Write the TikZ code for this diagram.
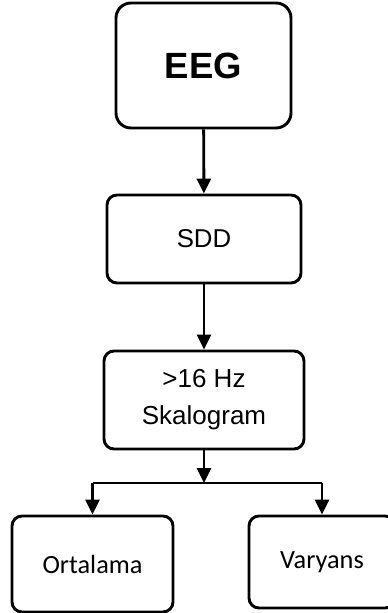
\documentclass[tikz,border=0pt]{standalone}
\usepackage{fontspec}
\setmainfont{Liberation Sans}
\newfontfamily\calfont{Carlito}
\usetikzlibrary{arrows.meta}
\begin{document}
\begin{tikzpicture}[x=1pt,y=-1pt,
  box/.style={draw, line width=2.9pt, rounded corners=10pt, inner sep=0pt, align=center},
  flow/.style={line width=2.9pt, -{Triangle[length=15pt,width=14pt]}},
  link/.style={line width=2.9pt}]
\useasboundingbox (0,0) rectangle (388,613);

\node[box, rounded corners=15pt, minimum width=175pt, minimum height=125pt,
      font=\bfseries\fontsize{36.5pt}{40pt}\selectfont] (eeg) at (203.5,65.5) {EEG};
\node[box, minimum width=194pt, minimum height=88pt,
      font=\fontsize{25.8pt}{30pt}\selectfont] (sdd) at (204,239) {SDD};
\node[box, minimum width=200pt, minimum height=98pt,
      font=\fontsize{26pt}{37pt}\selectfont] (skal) at (204,400) {>16 Hz\\Skalogram};
\node[box, minimum width=161pt, minimum height=96pt,
      font=\calfont\fontsize{26.3pt}{30pt}\selectfont] (ort) at (92.5,564) {Ortalama};
\node[box, minimum width=146pt, minimum height=92pt,
      font=\calfont\fontsize{26.3pt}{30pt}\selectfont] (var) at (322,562) {Varyans};

\coordinate (split) at (204,483);

\draw[flow] (eeg) -- (sdd);
\draw[flow] (sdd) -- (skal);
\draw[flow] (skal) -- (split);
\draw[link] (ort.north |- split) -- (var.north |- split);
\draw[flow] (ort.north |- split) -- (ort.north);
\draw[flow] (var.north |- split) -- (var.north);
\end{tikzpicture}
\end{document}
